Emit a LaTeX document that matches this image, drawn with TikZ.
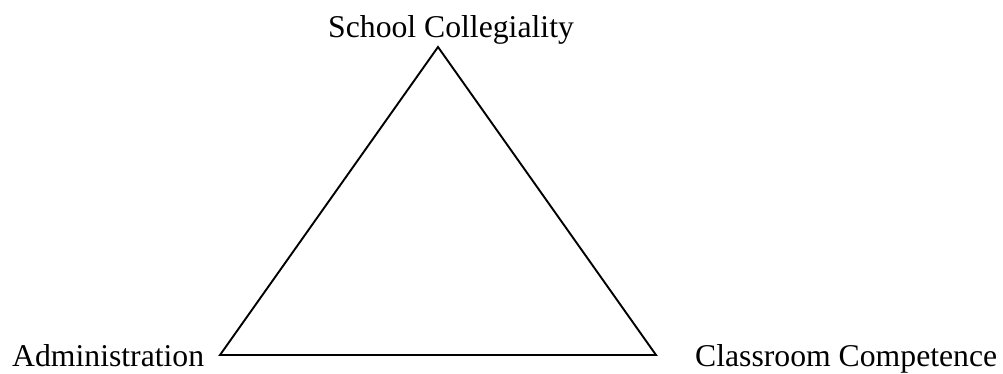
\documentclass[tikz,border=0pt]{standalone}
\usepackage{fontspec}
\setmainfont{Liberation Serif}
\usetikzlibrary{positioning}

\begin{document}
\begin{tikzpicture}[
  x=1pt, y=1pt,
  corner/.style={inner sep=0pt, anchor=base west,
                 font=\fontsize{31.7}{38}\selectfont},
  side/.style={line width=1.9pt, line join=miter},
]
\useasboundingbox (0,0) rectangle (1003,374);

% Corners of the triangle
\coordinate (top) at (438, 327);
\coordinate (left) at (220, 19);
\coordinate (right) at (656, 19);

% Labels
\node[corner] (collegiality) at (328, 336) {School Collegiality};
\node[corner] (admin) at (12, 7) {Administration};
\node[corner] (classroom) at (695, 7) {Classroom Competence};

% Triangle
\draw[side] (top) -- (left) -- (right) -- cycle;

\end{tikzpicture}
\end{document}
